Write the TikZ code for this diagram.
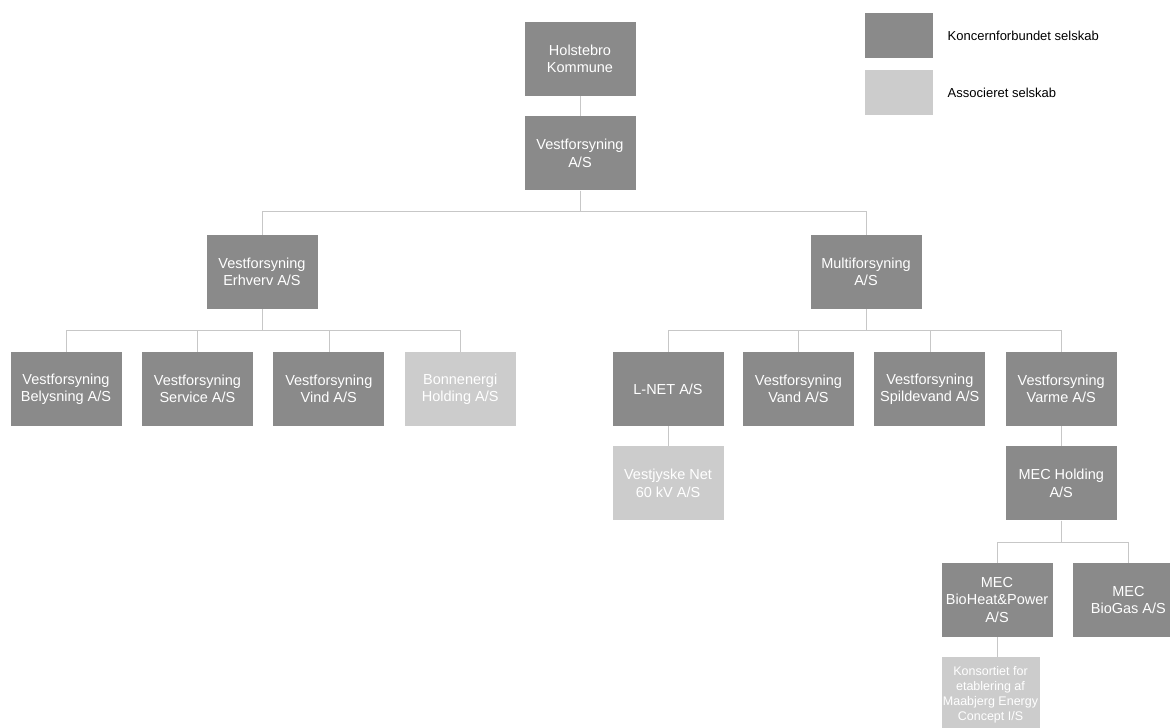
\documentclass[tikz,border=0pt]{standalone}
\usepackage{fontspec}
\setmainfont{Liberation Sans}
\usetikzlibrary{positioning}

\definecolor{groupgray}{RGB}{138,138,138}
\definecolor{assocgray}{RGB}{204,204,204}

\begin{document}
\begin{tikzpicture}[
      x=1pt, y=1pt,
      firm/.style={fill=groupgray, text=white, align=center, inner sep=1pt, minimum width=111pt, minimum height=74pt, font=\fontsize{14.5}{17.5}\selectfont},
      assoc/.style={firm, fill=assocgray},
      link/.style={black!22, line width=0.6pt},
      legtext/.style={font=\fontsize{13}{15}\selectfont, anchor=west},
      node distance=20pt and 20pt
    ]
      \useasboundingbox (0,0) rectangle (1170,-728);

      % top of the group
      \node[firm] (kommune) at (580,-59) {Holstebro\\Kommune};
      \node[firm, below=of kommune] (vest) {Vestforsyning\\A/S};

      \node[firm] (erhverv) at (262,-272) {Vestforsyning\\Erhverv A/S};
      \node[firm] (multi) at (866,-272) {Multiforsyning\\A/S};

      % Erhverv branch
      \node[firm] (belys) at (66,-389) {Vestforsyning\\Belysning A/S};
      \node[firm, right=of belys] (service) {Vestforsyning\\Service A/S};
      \node[firm, right=of service] (vind) {Vestforsyning\\Vind A/S};
      \node[assoc, right=of vind] (bonn) {Bonnenergi\\Holding A/S};

      % Multiforsyning branch
      \node[firm] (lnet) at (668,-389) {L-NET A/S};
      \node[firm, right=19pt of lnet] (vand) {Vestforsyning\\Vand A/S};
      \node[firm, right=of vand] (spilde) {Vestforsyning\\Spildevand A/S};
      \node[firm, right=of spilde] (varme) {Vestforsyning\\Varme A/S};

      \node[assoc, below=of lnet] (vjnet) {Vestjyske Net\\60 kV A/S};
      \node[firm, below=of varme] (mecholding) {MEC Holding\\A/S};

      \node[firm] (bioheat) at (997,-600) {MEC\\BioHeat\&Power\\A/S};
      \node[firm, right=of bioheat] (biogas) {MEC\\BioGas A/S};
      \node[assoc, minimum width=98pt, font=\fontsize{12.5}{15}\selectfont, below=of bioheat.south west, anchor=north west] (konsort) {Konsortiet for\\etablering af\\Maabjerg Energy\\Concept I/S};

      % legend
      \node[fill=groupgray, minimum width=68pt, minimum height=45pt] (legfirm) at (899,-35.5) {};
      \node[fill=assocgray, minimum width=68pt, minimum height=45pt] (legassoc) at (899,-92.5) {};
      \node[legtext, right=11pt of legfirm] (legfirmtxt) {Koncernforbundet selskab};
      \node[legtext, right=11pt of legassoc] (legassoctxt) {Associeret selskab};

      % ownership lines
      \draw[link] (kommune) -- (vest);
      \draw[link] (vest.south) -- ++(0,-21) -| (erhverv.north);
      \draw[link] (vest.south) -- ++(0,-21) -| (multi.north);
      \foreach \c in {belys, service, vind, bonn}
        \draw[link] (erhverv.south) -- ++(0,-21) -| (\c.north);
      \foreach \c in {lnet, vand, spilde, varme}
        \draw[link] (multi.south) -- ++(0,-21) -| (\c.north);
      \draw[link] (lnet) -- (vjnet);
      \draw[link] (varme) -- (mecholding);
      \draw[link] (mecholding.south) -- ++(0,-22) -| (bioheat.north);
      \draw[link] (mecholding.south) -- ++(0,-22) -| (biogas.north);
      \draw[link] (bioheat.south) -- (bioheat.south |- konsort.north);
    \end{tikzpicture}
\end{document}
